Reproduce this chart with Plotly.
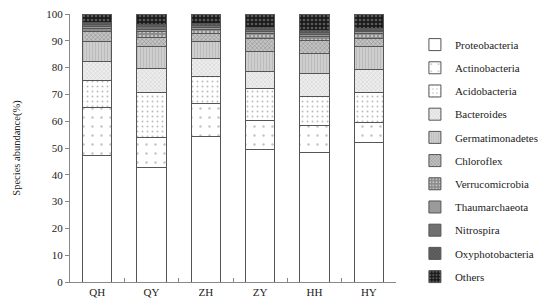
import plotly.graph_objects as go

sites = ["QH", "QY", "ZH", "ZY", "HH", "HY"]

proteobacteria = [47.2, 42.8, 54.3, 49.5, 48.2, 52.2]
actinobacteria = [17.8, 11.2, 12.2, 10.7, 10.1, 7.4]
acidobacteria = [10.2, 16.8, 10.0, 11.9, 11.1, 11.0]
bacteroides = [7.0, 9.0, 7.0, 6.5, 8.3, 8.8]
germatimonadetes = [7.4, 8.0, 6.1, 7.3, 7.6, 8.4]
chloroflex = [3.7, 3.6, 3.3, 4.9, 4.9, 3.0]
verrucomicrobia = [1.2, 1.9, 1.3, 1.8, 1.5, 1.8]
thaumarchaeota = [0.8, 1.0, 0.8, 0.8, 0.8, 0.7]
nitrospira = [0.7, 0.9, 0.7, 0.8, 0.7, 0.6]
oxyphotobacteria = [0.8, 0.8, 0.7, 0.7, 0.7, 0.6]
others = [3.2, 4.0, 3.6, 5.1, 6.1, 5.5]

series = [
    ("Proteobacteria", proteobacteria),
    ("Actinobacteria", actinobacteria),
    ("Acidobacteria", acidobacteria),
    ("Bacteroides", bacteroides),
    ("Germatimonadetes", germatimonadetes),
    ("Chloroflex", chloroflex),
    ("Verrucomicrobia", verrucomicrobia),
    ("Thaumarchaeota", thaumarchaeota),
    ("Nitrospira", nitrospira),
    ("Oxyphotobacteria", oxyphotobacteria),
    ("Others", others),
]

# (background, pattern shape, pattern colour, pattern size, solidity)
styles = {
    "Proteobacteria": ("white", "", "#777", 8, 0.1),
    "Actinobacteria": ("white", ".", "#888", 9, 0.06),
    "Acidobacteria": ("white", ".", "#777", 5, 0.12),
    "Bacteroides": ("#eeeeee", "x", "#aaa", 3, 0.3),
    "Germatimonadetes": ("#d0d0d0", "|", "#a5a5a5", 3, 0.4),
    "Chloroflex": ("#c4c4c4", "x", "#5a5a5a", 3, 0.35),
    "Verrucomicrobia": ("#8a8a8a", ".", "white", 4, 0.35),
    "Thaumarchaeota": ("#9a9a9a", "", "#777", 4, 0.2),
    "Nitrospira": ("#707070", "", "#555", 4, 0.2),
    "Oxyphotobacteria": ("#555555", "x", "#999", 3, 0.3),
    "Others": ("#1a1a1a", ".", "#9a9a9a", 4, 0.35),
}

serif = "Liberation Serif, Times New Roman, serif"

fig = go.Figure()
for name, vals in series:
    bg, shape, fg, size, sol = styles[name]
    fig.add_trace(go.Bar(
        x=sites, y=vals, name=name, legendgroup=name,
        marker=dict(color=bg, line=dict(color="#555", width=1),
                    pattern=dict(shape=shape, fgcolor=fg, bgcolor=bg,
                                 size=size, solidity=sol, fillmode="overlay")),
    ))

# page body adds an 8px offset, margins compensate for it
fig.update_layout(
    width=550, height=303,
    barmode="stack", bargap=0.46,
    plot_bgcolor="white", paper_bgcolor="white",
    margin=dict(l=62, r=162, t=6, b=29, autoexpand=False),
    font=dict(family=serif, size=11, color="#222"),
    legend=dict(x=1.058, y=0.94, xanchor="left", yanchor="top",
                traceorder="grouped", tracegroupgap=4.2,
                font=dict(family=serif, size=11), itemwidth=30),
    showlegend=True,
)
fig.update_yaxes(range=[0, 100], dtick=10, showline=True, linecolor="#888",
                 ticks="outside", ticklen=4, tickcolor="#888", showgrid=False,
                 zeroline=False, ticklabeloverflow="allow",
                 title=dict(text="Species abundance(%)",
                            font=dict(size=10.5), standoff=23))
fig.update_xaxes(showline=True, linecolor="#888", ticks="inside",
                 tickson="boundaries", ticklen=4, tickcolor="#888",
                 showgrid=False)

fig.write_html("out.html")
